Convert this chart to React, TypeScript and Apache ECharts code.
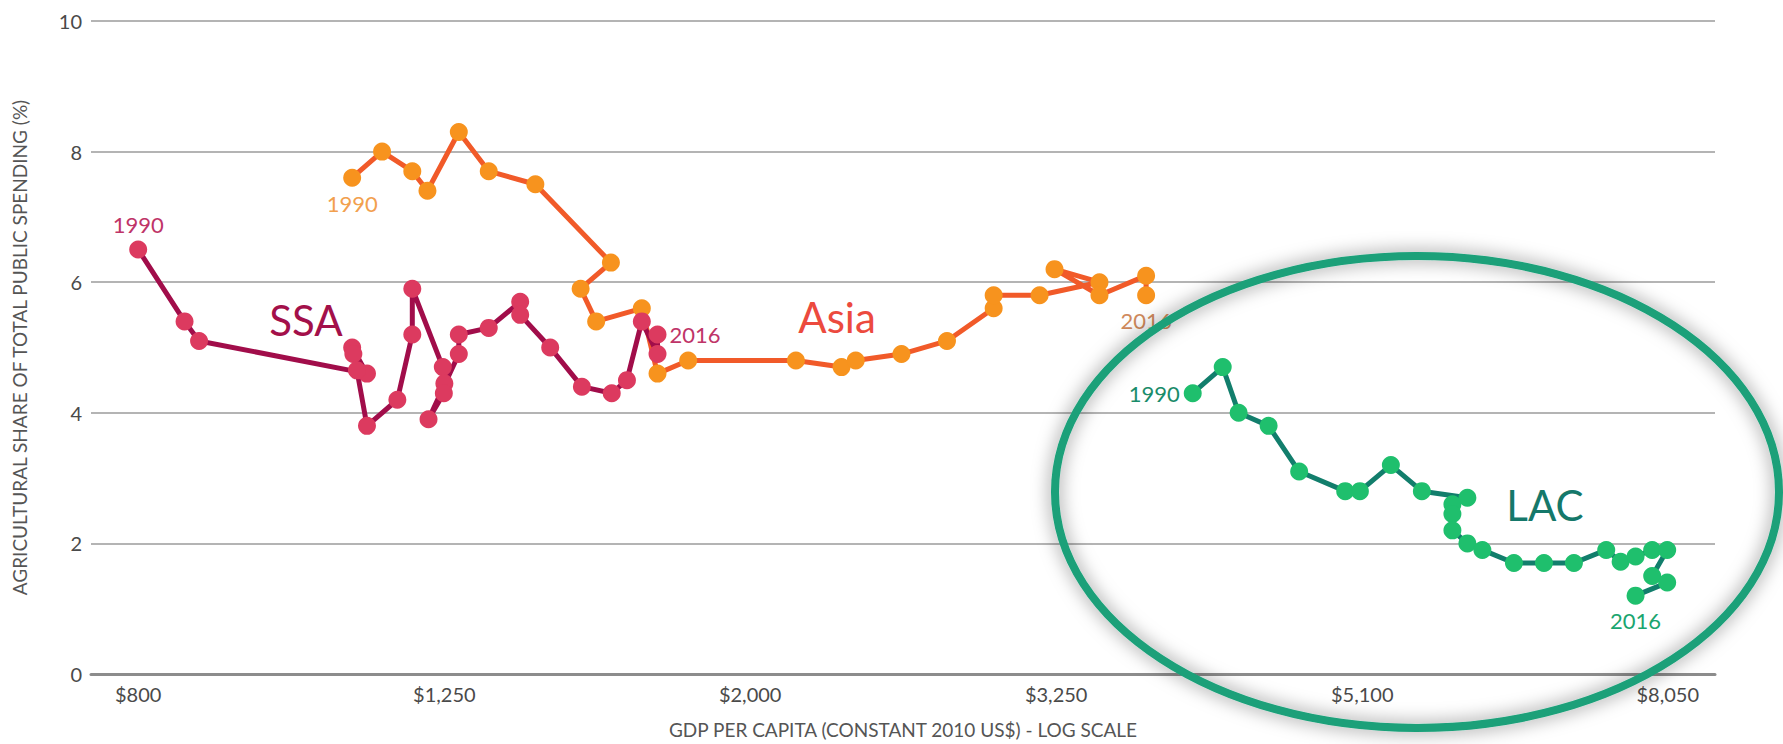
import React, { useEffect, useRef } from "react";
import * as echarts from "echarts";

// X axis (log scale) tick positions and their printed labels
const xTickValues = [800, 1270, 2015, 3198, 5076, 8050];
const xTickLabels = ["$800", "$1,250", "$2,000", "$3,250", "$5,100", "$8,050"];
const xMin = 745;
const xMax = 8645;
const yMin = 0;
const yMax = 10;
const yInterval = 2;

const startYear = "1990";
const endYear = "2016";

// Sub-Saharan Africa
const ssaGdp = [800, 858, 877, 1130, 1105, 1107, 1113, 1130, 1183, 1210, 1210, 1267, 1270, 1269, 1240, 1298, 1298, 1358, 1424, 1424, 1490, 1563, 1635, 1673, 1711, 1752, 1752];
const ssaShare = [6.5, 5.4, 5.1, 4.6, 5.0, 4.9, 4.65, 3.8, 4.2, 5.2, 5.9, 4.7, 4.45, 4.3, 3.9, 4.9, 5.2, 5.3, 5.7, 5.5, 5.0, 4.4, 4.3, 4.5, 5.4, 4.9, 5.2];

// Asia
const asiaGdp = [1105, 1156, 1210, 1238, 1298, 1358, 1457, 1633, 1560, 1597, 1711, 1752, 1835, 2159, 2313, 2363, 2532, 2712, 2910, 2910, 3119, 3414, 3190, 3414, 3663, 3663];
const asiaShare = [7.6, 8.0, 7.7, 7.4, 8.3, 7.7, 7.5, 6.3, 5.9, 5.4, 5.6, 4.6, 4.8, 4.8, 4.7, 4.8, 4.9, 5.1, 5.6, 5.8, 5.8, 6.0, 6.2, 5.8, 6.1, 5.8];

// Latin America & Caribbean
const lacGdp = [3930, 4112, 4212, 4407, 4615, 4947, 5058, 5300, 5554, 5949, 5816, 5816, 5816, 5949, 6085, 6382, 6678, 6987, 7336, 7497, 7668, 7863, 8043, 7863, 8043, 7668];
const lacShare = [4.3, 4.7, 4.0, 3.8, 3.1, 2.8, 2.8, 3.2, 2.8, 2.7, 2.6, 2.45, 2.2, 2.0, 1.9, 1.7, 1.7, 1.7, 1.9, 1.72, 1.8, 1.9, 1.9, 1.5, 1.4, 1.2];

const FONT = "Lato, 'Open Sans', sans-serif";

function buildData(gdp: number[], share: number[], first: any, last: any) {
  return gdp.map((g, i) => {
    const item: any = { value: [g, share[i]] };
    if (i === 0) item.label = { show: true, formatter: startYear, ...first };
    if (i === gdp.length - 1) item.label = { show: true, formatter: endYear, ...last };
    return item;
  });
}

function lineSeries(name: string, data: any[], lineColor: string, dotColor: string) {
  return {
    name,
    type: "line",
    data,
    symbol: "circle",
    symbolSize: 18,
    showSymbol: true,
    lineStyle: { color: lineColor, width: 5 },
    itemStyle: { color: dotColor },
    label: { show: false, fontFamily: FONT, fontSize: 22 },
    emphasis: { disabled: true },
  };
}

export default function App() {
  const ref = useRef<HTMLDivElement>(null);

  useEffect(() => {
    if (!ref.current) return;
    const chart = echarts.init(ref.current, undefined, { renderer: "svg" });
    const option: any = {
      animation: false,
      backgroundColor: "#ffffff",
      grid: { left: 91, right: 68, top: 21, bottom: 66, containLabel: false },
      xAxis: {
        type: "log",
        logBase: 10,
        min: xMin,
        max: xMax,
        name: "GDP PER CAPITA (CONSTANT 2010 US$) - LOG SCALE",
        nameLocation: "middle",
        nameGap: 46,
        nameTextStyle: { fontFamily: FONT, fontSize: 19, color: "#555" },
        axisLine: { show: true, lineStyle: { color: "#8c8c8c", width: 3 } },
        axisTick: { show: false },
        splitLine: { show: false },
        minorSplitLine: { show: false },
        axisLabel: {
          customValues: xTickValues,
          fontFamily: FONT,
          fontSize: 20,
          color: "#4a4a4a",
          margin: 10,
          formatter: (v: number) => {
            let best = 0;
            for (let i = 1; i < xTickValues.length; i++) {
              if (Math.abs(Math.log(xTickValues[i] / v)) < Math.abs(Math.log(xTickValues[best] / v))) best = i;
            }
            return xTickLabels[best];
          },
        },
      },
      yAxis: {
        type: "value",
        min: yMin,
        max: yMax,
        interval: yInterval,
        name: "AGRICULTURAL SHARE OF TOTAL PUBLIC SPENDING (%)",
        nameLocation: "middle",
        nameGap: 62,
        nameRotate: 90,
        nameTextStyle: { fontFamily: FONT, fontSize: 19, color: "#555" },
        axisLine: { show: false },
        axisTick: { show: false },
        axisLabel: { fontFamily: FONT, fontSize: 20, color: "#4a4a4a", margin: 9 },
        splitLine: { show: true, lineStyle: { color: "#b4b4b4", width: 2 } },
      },
      series: [
        lineSeries(
          "Asia",
          buildData(asiaGdp, asiaShare,
            { position: "bottom", distance: 6, color: "#f2a04e" },
            { position: "bottom", distance: 5, color: "#d08a5c" }),
          "#f15a29",
          "#f7931e"
        ),
        lineSeries(
          "SSA",
          buildData(ssaGdp, ssaShare,
            { position: "top", distance: 5, color: "#bf3468" },
            { position: "right", distance: 3, color: "#bf3468" }),
          "#a10d4a",
          "#dc3a5f"
        ),
        lineSeries(
          "LAC",
          buildData(lacGdp, lacShare,
            { position: "left", distance: 4, color: "#1a8c6a" },
            { position: "bottom", distance: 5, color: "#1aa56f" }),
          "#127e6c",
          "#1fbf6d"
        ),
      ],
      graphic: [
        {
          type: "text",
          x: 306,
          y: 320,
          z: 50,
          style: { text: "SSA", fill: "#a3104a", font: `normal 42px ${FONT}`, textAlign: "center", verticalAlign: "middle" },
        },
        {
          type: "text",
          x: 837,
          y: 317,
          z: 50,
          style: { text: "Asia", fill: "#ec4a3e", font: `normal 42px ${FONT}`, textAlign: "center", verticalAlign: "middle" },
        },
        {
          type: "text",
          x: 1545,
          y: 505,
          z: 50,
          style: { text: "LAC", fill: "#15786a", font: `normal 42px ${FONT}`, textAlign: "center", verticalAlign: "middle" },
        },
        {
          type: "ellipse",
          z: 60,
          shape: { cx: 1417, cy: 492, rx: 362, ry: 236 },
          style: {
            fill: "none",
            stroke: "#1aa079",
            lineWidth: 8,
            shadowBlur: 18,
            shadowColor: "rgba(0,0,0,0.5)",
          },
        },
      ],
    };
    chart.setOption(option);
    return () => chart.dispose();
  }, []);

  return (
    <div
      ref={ref}
      style={{ position: "absolute", left: 0, top: 0, width: "1783px", height: "744px" }}
    />
  );
}
